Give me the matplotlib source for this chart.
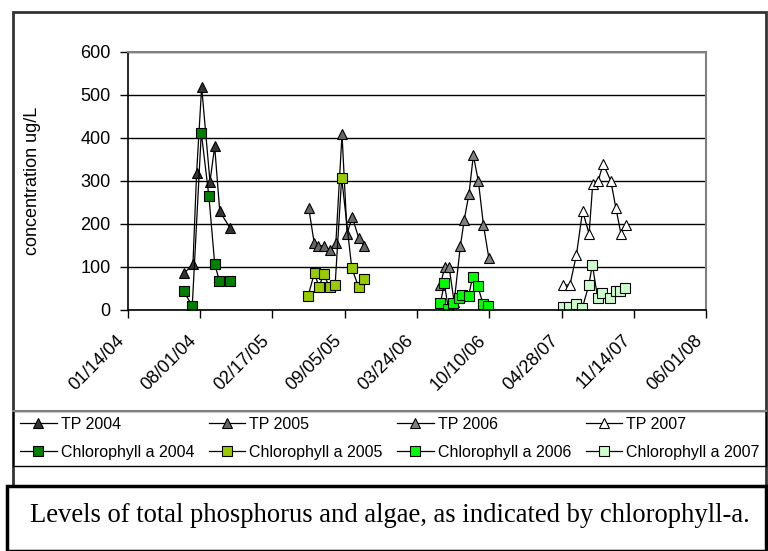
import matplotlib
matplotlib.use('Agg')
import matplotlib.pyplot as plt
import matplotlib.dates as mdates
import matplotlib.transforms as mtransforms
from matplotlib.patches import Rectangle
from matplotlib.lines import Line2D
import pandas as pd

# total phosphorus (ug/L)
tp04_dates = ['2004-06-19', '2004-07-13', '2004-07-23', '2004-08-06', '2004-08-29',
              '2004-09-11', '2004-09-25', '2004-10-24']
tp04 = [85, 108, 318, 518, 298, 380, 229, 190]
tp05_dates = ['2005-05-29', '2005-06-13', '2005-06-24', '2005-07-10', '2005-07-28',
              '2005-08-12', '2005-08-29', '2005-09-12', '2005-09-26', '2005-10-14',
              '2005-10-28']
tp05 = [237, 156, 149, 149, 139, 156, 408, 177, 216, 168, 149]
tp06_dates = ['2006-05-28', '2006-06-09', '2006-06-21', '2006-07-05', '2006-07-22',
              '2006-08-02', '2006-08-15', '2006-08-27', '2006-09-10', '2006-09-24',
              '2006-10-09']
tp06 = [58, 100, 100, 18, 148, 210, 270, 359, 299, 197, 120]
tp07_dates = ['2007-05-01', '2007-05-21', '2007-06-08', '2007-06-25', '2007-07-13',
              '2007-07-23', '2007-08-07', '2007-08-21', '2007-09-11', '2007-09-25',
              '2007-10-09', '2007-10-22']
tp07 = [58, 58, 128, 230, 177, 292, 300, 339, 300, 237, 177, 198]

# chlorophyll a (ug/L)
ch04_dates = ['2004-06-17', '2004-07-11', '2004-08-05', '2004-08-26', '2004-09-11',
              '2004-09-24', '2004-10-23']
ch04 = [45, 9, 412, 264, 108, 67, 67]
ch05_dates = ['2005-05-27', '2005-06-14', '2005-06-26', '2005-07-09', '2005-07-26',
              '2005-08-10', '2005-08-28', '2005-09-25', '2005-10-14', '2005-10-28']
ch05 = [32, 87, 53, 83, 53, 59, 307, 97, 53, 71]
ch06_dates = ['2006-05-28', '2006-06-08', '2006-06-19', '2006-07-02', '2006-07-19',
              '2006-07-28', '2006-08-14', '2006-08-25', '2006-09-08', '2006-09-23',
              '2006-10-07']
ch06 = [16, 62, 2, 16, 27, 36, 33, 77, 56, 14, 10]
ch07_dates = ['2007-05-01', '2007-05-19', '2007-06-06', '2007-06-24', '2007-07-12',
              '2007-07-22', '2007-08-06', '2007-08-18', '2007-09-09', '2007-09-24',
              '2007-10-06', '2007-10-19']
ch07 = [8, 8, 13, 4, 57, 105, 27, 39, 27, 44, 43, 52]

tick_dates = ['2004-01-14', '2004-08-01', '2005-02-17', '2005-09-05', '2006-03-24',
              '2006-10-10', '2007-04-28', '2007-11-14', '2008-06-01']

series = [
    ('TP 2004', tp04_dates, tp04, '^', '#333333'),
    ('Chlorophyll a 2004', ch04_dates, ch04, 's', '#008000'),
    ('TP 2005', tp05_dates, tp05, '^', '#666666'),
    ('Chlorophyll a 2005', ch05_dates, ch05, 's', '#99CC00'),
    ('TP 2006', tp06_dates, tp06, '^', '#808080'),
    ('Chlorophyll a 2006', ch06_dates, ch06, 's', '#00FF00'),
    ('TP 2007', tp07_dates, tp07, '^', '#FFFFFF'),
    ('Chlorophyll a 2007', ch07_dates, ch07, 's', '#CCFFCC'),
]

plt.rcParams['font.family'] = ['Liberation Sans', 'DejaVu Sans']

W, H = 768, 551
fig = plt.figure(figsize=(W / 100, H / 100), dpi=100)
ax = fig.add_axes([127.5 / W, 1 - 310 / H, (706.3 - 127.5) / W, (310 - 51.7) / H])

handles = []
for name, d, v, m, c in series:
    ms = 7.5 if m == '^' else 6.5
    ln, = ax.plot(pd.to_datetime(d), v, color='black', lw=0.9, marker=m, ms=ms,
                  mfc=c, mec='black', mew=0.8, label=name)
    handles.append(ln)

ticks = pd.to_datetime(tick_dates)
ax.set_xlim(ticks[0], ticks[-1])
ax.set_ylim(0, 600)
ax.set_yticks(range(0, 601, 100))
ax.set_xticks(ticks)
ax.xaxis.set_major_formatter(mdates.DateFormatter('%m/%d/%y'))
ax.grid(axis='y', color='black', lw=1)
ax.set_axisbelow(True)
for s in ['top', 'right']:
    ax.spines[s].set_color('#808080')
    ax.spines[s].set_linewidth(1.5)
for s in ['left', 'bottom']:
    ax.spines[s].set_linewidth(1.2)
ax.tick_params(axis='both', direction='out', length=6, width=1, labelsize=13)
ax.tick_params(axis='y', pad=6)
ax.tick_params(axis='x', pad=14)
shift = mtransforms.ScaledTranslation(-6 / 100, 0, fig.dpi_scale_trans)
for lab in ax.get_xticklabels():
    lab.set_rotation(45)
    lab.set_ha('right')
    lab.set_va('center')
    lab.set_rotation_mode('anchor')
    lab.set_transform(lab.get_transform() + shift)

ax.set_ylabel('concentration ug/L', fontsize=13)
ax.yaxis.set_label_coords(-0.15, 0.5)

# chart frame, legend box, caption box
fig.patches.append(Rectangle((13 / W, 1 - 486 / H), (766 - 13) / W, (486 - 12) / H,
                             transform=fig.transFigure, fill=False, ec='#333333', lw=2))
fig.patches.append(Rectangle((13 / W, 1 - 465.5 / H), (766 - 13) / W, (465.5 - 411) / H,
                             transform=fig.transFigure, fill=False, ec='black', lw=1))
fig.lines.append(Line2D([13 / W, 766 / W], [1 - 411 / H, 1 - 411 / H],
                        transform=fig.transFigure, color='#808080', lw=1.5))
fig.patches.append(Rectangle((7 / W, 1 - 551 / H), (766 - 7) / W, (551 - 486) / H,
                             transform=fig.transFigure, fill=False, ec='black', lw=2.5))

fig.legend(handles=handles, ncol=4, loc='upper left', frameon=False,
           bbox_to_anchor=(20 / W, 1 - 417 / H), fontsize=11.5,
           handlelength=2.3, handletextpad=0.25, columnspacing=0.9,
           labelspacing=0.8, borderpad=0, borderaxespad=0)

fig.text(30 / W, 1 - 522 / H,
         'Levels of total phosphorus and algae, as indicated by chlorophyll-a.',
         family='Liberation Serif', fontsize=19.2, va='baseline', ha='left')

fig.savefig('out.png', dpi=100)
